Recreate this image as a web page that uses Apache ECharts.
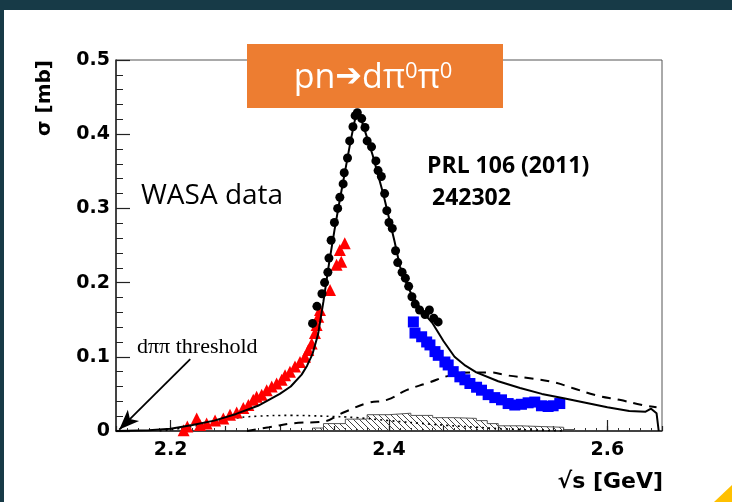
<!DOCTYPE html>
<html><head><meta charset="utf-8">
<script src="https://cdn.jsdelivr.net/npm/echarts@6/dist/echarts.min.js"></script>
<style>html,body{margin:0;padding:0;background:#fff}#c{width:732px;height:502px}</style>
</head><body><div id="c"></div><script>
// ---- data ----
const xTickLabels = [2.2, 2.4, 2.6];
const yTickLabels = [0, 0.1, 0.2, 0.3, 0.4, 0.5];

// WASA black points
const blackX = [2.330,2.334,2.3386,2.341,2.344,2.345,2.347,2.350,2.353,2.355,2.358,2.359,2.362,2.364,2.367,2.369,2.371,
                2.375,2.378,2.380,2.384,2.388,2.390,2.393,2.396,2.398,2.400,2.403,2.406,2.408,2.412,2.415,2.418,2.421,2.424,2.428,2.433,2.437,2.441,2.445];
const blackY = [0.145,0.168,0.185,0.200,0.214,0.233,0.257,0.281,0.300,0.315,0.333,0.348,0.368,0.391,0.410,0.425,0.429,
                0.421,0.409,0.391,0.383,0.364,0.351,0.343,0.320,0.297,0.281,0.273,0.243,0.227,0.214,0.206,0.195,0.181,0.171,0.163,0.157,0.163,0.152,0.147];

// red triangles
const redX = [2.2119,2.2153,2.2239,2.2269,2.233,2.2407,2.2483,2.2544,2.2605,2.2666,2.2712,2.2757,2.2788,2.2834,2.288,2.2926,2.2971,
              2.3017,2.3048,2.3093,2.3139,2.3185,2.3231,2.3261,2.3292,2.3322,2.3337,2.3352,2.3368,2.346,2.352,2.3563,2.355,2.3595];
const redY = [0.001,0.006,0.017,0.008,0.010,0.014,0.017,0.022,0.025,0.031,0.035,0.042,0.046,0.049,0.055,0.060,0.064,
              0.069,0.075,0.080,0.087,0.093,0.100,0.109,0.118,0.132,0.143,0.154,0.163,0.190,0.224,0.228,0.244,0.253];

// blue squares
const blueX = [2.4223,2.4238,2.4299,2.4345,2.4375,2.4421,2.4451,2.4512,2.4542,2.4588,2.4649,2.4695,2.4741,2.4802,2.4847,2.4908,2.4969,
               2.503,2.5091,2.5152,2.5213,2.5274,2.5335,2.5396,2.5457,2.5503,2.5564];
const blueY = [0.147,0.132,0.127,0.120,0.116,0.107,0.102,0.093,0.089,0.080,0.073,0.069,0.064,0.059,0.055,0.049,0.045,
               0.042,0.037,0.035,0.036,0.038,0.039,0.034,0.033,0.034,0.037];

// full fit (solid)
const solidX = [2.15,2.18,2.20,2.22,2.24,2.26,2.28,2.30,2.31,2.32,2.325,2.33,2.335,2.34,2.345,2.35,2.355,2.36,2.365,2.37,2.375,2.38,2.385,2.39,2.395,2.40,2.405,2.41,2.415,2.42,2.43,2.44,2.45,2.46,2.47,2.48,2.50,2.52,2.54,2.56,2.58,2.60,2.62,2.635,2.64,2.645,2.647];
const solidY = [0,0.001,0.003,0.008,0.014,0.023,0.034,0.050,0.060,0.076,0.088,0.104,0.130,0.175,0.225,0.270,0.312,0.352,0.392,0.428,0.418,0.395,0.372,0.345,0.318,0.287,0.256,0.222,0.203,0.186,0.162,0.145,0.121,0.100,0.088,0.079,0.067,0.058,0.050,0.044,0.038,0.032,0.027,0.026,0.030,0.024,0];

// dashed component
const dashX = [2.27,2.29,2.317,2.336,2.36,2.381,2.398,2.416,2.436,2.456,2.474,2.492,2.508,2.529,2.55,2.568,2.59,2.611,2.632,2.645];
const dashY = [0,0.005,0.011,0.012,0.026,0.038,0.042,0.055,0.065,0.075,0.079,0.079,0.075,0.071,0.066,0.058,0.048,0.042,0.035,0.032];

// dotted component
const dotX = [2.19,2.22,2.25,2.28,2.31,2.34,2.37,2.40,2.44,2.48,2.52,2.56];
const dotY = [0,0.006,0.015,0.020,0.021,0.020,0.018,0.014,0.009,0.005,0.002,0];

// hatched histogram
const hatchX = [2.33,2.34,2.36,2.38,2.40,2.42,2.44,2.46,2.48,2.49,2.50,2.52,2.54,2.56,2.57];
const hatchY = [0.004,0.010,0.016,0.022,0.024,0.021,0.018,0.017,0.014,0.010,0.007,0.006,0.005,0.002,0];

// threshold arrow (from, to)
const arrowFrom = [2.218, 0.097];
const arrowTo = [2.153, 0.002];

const zip = (a, b) => a.map((v, i) => [v, b[i]]);

function hatchPattern() {
  const c = document.createElement('canvas');
  c.width = 6; c.height = 6;
  const g = c.getContext('2d');
  g.strokeStyle = '#444'; g.lineWidth = 1;
  g.beginPath();
  g.moveTo(0, 0); g.lineTo(6, 6);
  g.moveTo(-1, 5); g.lineTo(1, 7);
  g.moveTo(5, -1); g.lineTo(7, 1);
  g.stroke();
  return c;
}

const tickFont = {fontFamily: 'DejaVu Sans', fontWeight: 'bold', fontSize: 19, color: '#000'};
const chart = echarts.init(document.getElementById('c'), null, {renderer: 'canvas'});
chart.setOption({
  backgroundColor: '#fff',
  animation: false,
  grid: {left: 116, right: 70, top: 60, bottom: 71, show: true, borderColor: '#555', borderWidth: 1},
  xAxis: [{
    type: 'value', min: 2.15, max: 2.65, interval: 0.05,
    axisLine: {show: true, onZero: false, lineStyle: {color: '#222', width: 1.5}},
    axisTick: {show: true, inside: true, length: 11, customValues: xTickLabels, lineStyle: {color: '#222', width: 1.2}},
    minorTick: {show: true, splitNumber: 5, length: 3, lineStyle: {color: '#333'}},
    axisLabel: {customValues: xTickLabels, margin: 10, formatter: v => v.toFixed(1), ...tickFont},
    splitLine: {show: false}
  }, {
    type: 'value', min: 2.15, max: 2.65, interval: 0.05, position: 'bottom',
    axisLine: {show: false},
    axisTick: {show: true, inside: true, length: 5, lineStyle: {color: '#222', width: 1.2}},
    axisLabel: {show: false},
    splitLine: {show: false}
  }],
  yAxis: {
    type: 'value', min: 0, max: 0.5, interval: 0.1,
    axisLine: {show: true, lineStyle: {color: '#222', width: 1.5}},
    axisTick: {show: true, inside: true, length: 14, lineStyle: {color: '#222', width: 1.2}},
    minorTick: {show: true, splitNumber: 5, length: 7, lineStyle: {color: '#222'}},
    axisLabel: {margin: 6, formatter: v => (v === 0 ? '0' : v.toFixed(1)), ...tickFont},
    splitLine: {show: false}
  },
  series: [
    {type: 'line', name: 'hatch', data: zip(hatchX, hatchY), step: 'end', symbol: 'none', z: 1,
     lineStyle: {color: '#555', width: 1}, areaStyle: {color: {image: hatchPattern(), repeat: 'repeat'}, opacity: 1},
     markLine: {silent: true, symbol: ['none', 'arrow'], symbolSize: [12, 20], label: {show: false},
       lineStyle: {color: '#000', width: 1.8, type: 'solid'},
       data: [[{coord: arrowFrom}, {coord: arrowTo}]]}},
    {type: 'line', name: 'dotted', data: zip(dotX, dotY), smooth: true, symbol: 'none', z: 2,
     lineStyle: {color: '#000', width: 1.6, type: [2, 4]}},
    {type: 'line', name: 'dashed', data: zip(dashX, dashY), smooth: true, symbol: 'none', z: 3,
     lineStyle: {color: '#000', width: 2, type: [9, 7]}},
    {type: 'scatter', name: 'red', data: zip(redX, redY), symbol: 'triangle', symbolSize: 12, z: 4,
     itemStyle: {color: '#ff0000', opacity: 1}},
    {type: 'scatter', name: 'blue', data: zip(blueX, blueY), symbol: 'rect', symbolSize: 11, z: 4,
     itemStyle: {color: '#0000ff', opacity: 1}},
    {type: 'line', name: 'fit', data: zip(solidX, solidY), symbol: 'none', z: 5,
     lineStyle: {color: '#000', width: 2}},
    {type: 'scatter', name: 'black', data: zip(blackX, blackY), symbol: 'circle', symbolSize: 9, z: 6,
     itemStyle: {color: '#000', opacity: 1}}
  ],
  graphic: [
    {type: 'rect', left: 0, top: 0, shape: {width: 732, height: 10}, style: {fill: '#173a47'}, z: 100},
    {type: 'rect', left: 0, top: 0, shape: {width: 4, height: 502}, style: {fill: '#173a47'}, z: 100},
    {type: 'polygon', shape: {points: [[714, 502], [732, 502], [732, 485]]}, style: {fill: '#FFC000'}, z: 100},
    {type: 'rect', x: 247, y: 44, shape: {width: 256, height: 64}, style: {fill: '#ED7D31'}, z: 100},
    {type: 'text', x: 373, y: 78, z: 101, style: {
      text: '{a|pn}{b|➔}{a|dπ}{s|0}{a|π}{s|0}', align: 'center', verticalAlign: 'middle', fill: '#fff',
      rich: {
        a: {fontSize: 34, fontFamily: 'Open Sans', fill: '#fff'},
        b: {fontSize: 32, fontFamily: 'DejaVu Sans', fill: '#fff'},
        s: {fontSize: 22, fontFamily: 'Open Sans', fill: '#fff', verticalAlign: 'top'}
      }}},
    {type: 'text', x: 45, y: 60, rotation: Math.PI / 2, z: 50, style: {
      text: 'σ [mb]', align: 'right', verticalAlign: 'middle', fontFamily: 'DejaVu Sans', fontWeight: 'bold', fontSize: 20, fill: '#000'}},
    {type: 'text', x: 663, y: 482, z: 50, style: {
      text: '√s [GeV]', align: 'right', verticalAlign: 'middle', fontFamily: 'DejaVu Sans', fontWeight: 'bold', fontSize: 22, fill: '#000'}},
    {type: 'text', x: 137, y: 347, z: 50, style: {
      text: 'dππ threshold', align: 'left', verticalAlign: 'middle', fontFamily: 'Liberation Serif', fontSize: 22, fill: '#000'}},
    {type: 'text', x: 141, y: 196, z: 50, style: {
      text: 'WASA data', align: 'left', verticalAlign: 'middle', fontFamily: 'Open Sans', fontSize: 28, fill: '#000'}},
    {type: 'text', x: 427, y: 166, z: 50, style: {
      text: 'PRL 106 (2011)', align: 'left', verticalAlign: 'middle', fontFamily: 'Open Sans', fontWeight: 'bold', fontSize: 23, fill: '#000'}},
    {type: 'text', x: 432, y: 198, z: 50, style: {
      text: '242302', align: 'left', verticalAlign: 'middle', fontFamily: 'Open Sans', fontWeight: 'bold', fontSize: 23, fill: '#000'}}
  ]
});
</script></body></html>
